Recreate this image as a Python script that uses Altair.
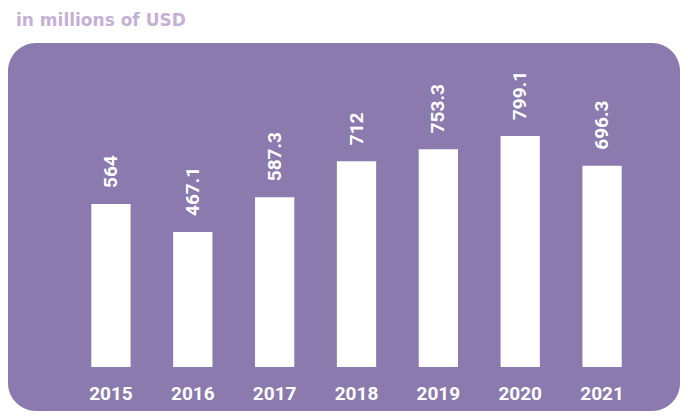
import altair as alt
import pandas as pd

years = ["2015", "2016", "2017", "2018", "2019", "2020", "2021"]
values = [564, 467.1, 587.3, 712, 753.3, 799.1, 696.3]
value_labels = ["564", "467.1", "587.3", "712", "753.3", "799.1", "696.3"]

df = pd.DataFrame({"year": years, "value": values, "label": value_labels})

PURPLE = "#8a7aad"
TITLE_COLOR = "#c6b1d5"
FONT = "Roboto"

x = alt.X("year:N", axis=None,
          scale=alt.Scale(range=[62, 635], paddingInner=0.52, paddingOuter=0.26))
y = alt.Y("value:Q", axis=None, scale=alt.Scale(domain=[0, 1000], range=[324, 35]))

bars = alt.Chart(df).mark_bar(color="white").encode(x=x, y=y)

vals = alt.Chart(df).mark_text(
    angle=270, align="left", baseline="middle", dx=16,
    font=FONT, fontWeight="bold", fontSize=19, color="white"
).encode(x=x, y=y, text="label:N")

yrs = alt.Chart(df).mark_text(
    align="center", baseline="alphabetic", dy=33,
    font=FONT, fontWeight="bold", fontSize=19, color="white"
).encode(x=x, y=alt.datum(0), text="year:N")

chart = alt.layer(bars, vals, yrs).properties(
    width=672, height=368,
    autosize=alt.AutoSizeParams(type="none"),
    padding={"left": 0, "top": 35, "right": 0, "bottom": 0},
    background="white",
    title=alt.TitleParams(
        "in millions of USD", anchor="start", frame="group", baseline="alphabetic",
        offset=18, dx=8, dy=18, font="DejaVu Sans", fontWeight="bold", fontSize=17,
        color=TITLE_COLOR
    ),
).configure_view(fill=PURPLE, cornerRadius=28, strokeWidth=0, stroke="transparent")

chart.save("out.html", embed_options={"renderer": "svg", "actions": False})
